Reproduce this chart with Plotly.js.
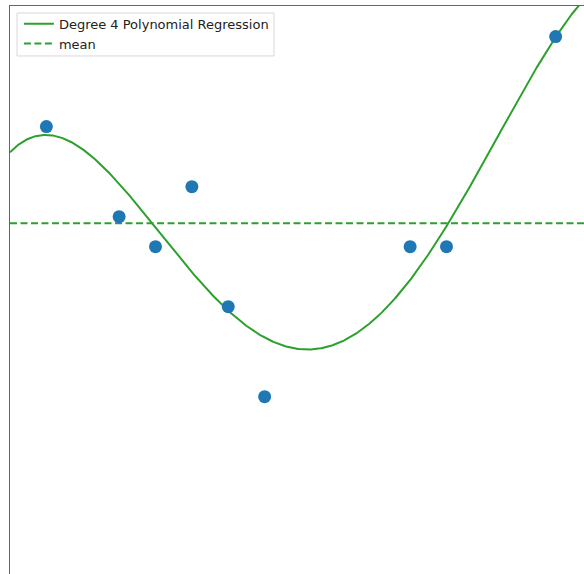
<!DOCTYPE html>
<html>
<head>
<meta charset="utf-8">
<script src="https://cdn.plot.ly/plotly-3.0.1.min.js"></script>
<style>
  html, body { margin: 0; padding: 0; background: #fff; }
  #chart { width: 584px; height: 574px; }
</style>
</head>
<body>
<div id="chart"></div>
<script>
// Observations
const xData = [1, 3, 4, 5, 6, 7, 11, 12, 15];
const yData = [4, 1, 0, 2, -2, -5, 0, 0, 7];

// Visible window
const xRange = [0, 15.78];
const yRange = [-10.91, 8.02];

const DEGREE = 4;

// Least-squares polynomial fit (normal equations, Gaussian elimination)
function polyFit(xs, ys, deg) {
  const n = deg + 1;
  const A = Array.from({ length: n }, () => new Array(n + 1).fill(0));
  for (let k = 0; k < xs.length; k++) {
    const pw = [];
    for (let i = 0; i < 2 * n; i++) pw.push(Math.pow(xs[k], i));
    for (let r = 0; r < n; r++) {
      for (let c = 0; c < n; c++) A[r][c] += pw[r + c];
      A[r][n] += pw[r] * ys[k];
    }
  }
  for (let col = 0; col < n; col++) {
    let piv = col;
    for (let r = col + 1; r < n; r++) if (Math.abs(A[r][col]) > Math.abs(A[piv][col])) piv = r;
    [A[col], A[piv]] = [A[piv], A[col]];
    for (let r = 0; r < n; r++) {
      if (r === col) continue;
      const f = A[r][col] / A[col][col];
      for (let c = col; c <= n; c++) A[r][c] -= f * A[col][c];
    }
  }
  return A.map((row, i) => row[n] / row[i]);
}

const coef = polyFit(xData, yData, DEGREE);
const evalPoly = x => coef.reduce((s, c, i) => s + c * Math.pow(x, i), 0);

// Dense evaluation grid for the fitted curve
const xFit = [];
for (let i = 0; i <= 800; i++) xFit.push(xRange[0] + (16.5 - xRange[0]) * i / 800);
const yFit = xFit.map(evalPoly);

const meanY = yData.reduce((a, b) => a + b, 0) / yData.length;

const green = '#2ca02c';

const traces = [
  {
    x: xFit, y: yFit, mode: 'lines', name: 'Degree 4 Polynomial Regression',
    line: { color: green, width: 2 }, hoverinfo: 'skip'
  },
  {
    x: [xRange[0], xRange[1]], y: [meanY, meanY], mode: 'lines', name: 'mean',
    line: { color: green, width: 2, dash: '7px,3.5px' }
  },
  {
    x: xData, y: yData, mode: 'markers', showlegend: false,
    marker: { color: '#1f77b4', size: 13 }
  }
];

const layout = {
  width: 584, height: 574,
  margin: { l: 10, r: 0, t: 6, b: 0 },
  paper_bgcolor: '#fff', plot_bgcolor: '#fff',
  showlegend: true,
  legend: {
    x: 0.0155, y: 0.9952, xanchor: 'left', yanchor: 'top',
    bgcolor: 'rgba(0,0,0,0)', borderwidth: 0,
    font: { family: 'DejaVu Sans', size: 13, color: '#222' },
    itemwidth: 30, tracegroupgap: 0
  },
  // legend frame
  shapes: [{
    type: 'rect', xref: 'paper', yref: 'paper',
    x0: 0.0122, x1: 0.46, y0: 0.912, y1: 0.9877,
    line: { color: '#d8d8d8', width: 1 },
    fillcolor: 'rgba(255,255,255,0.8)', layer: 'above'
  }],
  xaxis: {
    range: xRange, side: 'top', showgrid: false, zeroline: false,
    showline: true, linecolor: '#666', linewidth: 1.5,
    ticks: '', showticklabels: false
  },
  yaxis: {
    range: yRange, showgrid: false, zeroline: false,
    showline: true, linecolor: '#666', linewidth: 1.5,
    ticks: '', showticklabels: false
  }
};

Plotly.newPlot('chart', traces, layout, { displayModeBar: false, staticPlot: true });
</script>
</body>
</html>
